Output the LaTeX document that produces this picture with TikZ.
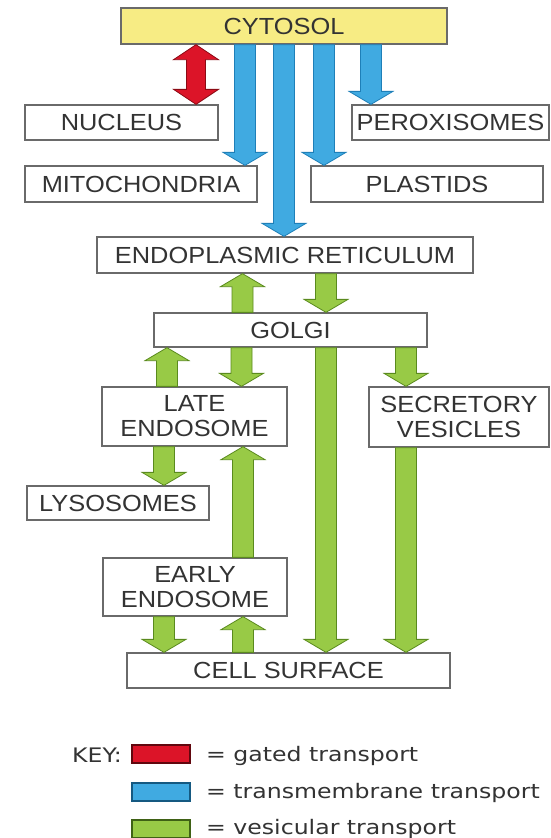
\documentclass[tikz,border=0pt]{standalone}
\usepackage{fontspec}
\newfontfamily\boxfont[FakeStretch=1.09]{Liberation Sans}
\newfontfamily\keyfont[FakeStretch=1.18]{DejaVu Sans}
\usetikzlibrary{calc}
\definecolor{cytyel}{HTML}{F7EC84}
\definecolor{boxgray}{HTML}{6A6A6A}
\definecolor{txtgray}{HTML}{333333}
\definecolor{tmblue}{HTML}{40AAE1}
\definecolor{tmblueD}{HTML}{1E7FB8}
\definecolor{vgreen}{HTML}{98CA46}
\definecolor{vgreenD}{HTML}{5A8A1E}
\definecolor{gred}{HTML}{DC1428}
\definecolor{gredD}{HTML}{8B0A14}
\def\blkSW{10.5pt}
\def\blkHW{22pt}
\def\blkHL{13pt}
\newcommand\blkdn[3]{%
  \path[#1] let \p1=#2, \p2=#3 in
   (\x1-\blkSW,\y1) -- (\x1-\blkSW,\y2+\blkHL) -- (\x1-\blkHW,\y2+\blkHL) -- (\x1,\y2)
   -- (\x1+\blkHW,\y2+\blkHL) -- (\x1+\blkSW,\y2+\blkHL) -- (\x1+\blkSW,\y1) -- cycle;}
\newcommand\blkup[3]{%
  \path[#1] let \p1=#2, \p2=#3 in
   (\x1-\blkSW,\y1) -- (\x1-\blkSW,\y2-\blkHL) -- (\x1-\blkHW,\y2-\blkHL) -- (\x1,\y2)
   -- (\x1+\blkHW,\y2-\blkHL) -- (\x1+\blkSW,\y2-\blkHL) -- (\x1+\blkSW,\y1) -- cycle;}
\newcommand\blkboth[3]{%
  \path[#1] let \p1=#2, \p2=#3 in
   (\x1,\y1) -- (\x1+22.5pt,\y1-15pt) -- (\x1+9.5pt,\y1-15pt) -- (\x1+9.5pt,\y2+15pt)
   -- (\x1+22.5pt,\y2+15pt) -- (\x1,\y2) -- (\x1-22.5pt,\y2+15pt) -- (\x1-9.5pt,\y2+15pt)
   -- (\x1-9.5pt,\y1-15pt) -- (\x1-22.5pt,\y1-15pt) -- cycle;}
\tikzset{
  box/.style={draw=boxgray, line width=1.3pt, fill=white, inner sep=0pt, text=txtgray,
    font=\boxfont\fontsize{23.3}{25}\selectfont, align=center},
  tmarrow/.style={fill=tmblue, draw=tmblueD, line width=0.8pt, line join=miter},
  vesarrow/.style={fill=vgreen, draw=vgreenD, line width=0.8pt, line join=miter},
  gatedarrow/.style={fill=gred, draw=gredD, line width=0.8pt, line join=miter},
  keyrect/.style={line width=1.2pt, inner sep=0pt, minimum width=58pt, minimum height=18pt},
  keytext/.style={anchor=west, inner sep=0pt, text=txtgray, font=\keyfont\fontsize{20}{22}\selectfont}
}
\begin{document}
\begin{tikzpicture}[x=1pt,y=-1pt]
\useasboundingbox[fill=white] (0,0) rectangle (551,838);
% boxes
\node[box, fill=cytyel, minimum width=326pt, minimum height=36pt] (cyt) at (284,26) {CYTOSOL};
\node[box, minimum width=193pt, minimum height=35pt] (nuc) at (121.5,122.5) {NUCLEUS};
\node[box, minimum width=197pt, minimum height=35pt] (perox) at (450.5,122.5) {PEROXISOMES};
\node[box, minimum width=232pt, minimum height=36pt] (mito) at (141,184) {MITOCHONDRIA};
\node[box, minimum width=232pt, minimum height=36pt] (plast) at (427,184) {PLASTIDS};
\node[box, minimum width=376pt, minimum height=36pt] (er) at (285,255) {ENDOPLASMIC RETICULUM};
\node[box, minimum width=273pt, minimum height=34pt] (golgi) at (290.5,330) {GOLGI};
\node[box, minimum width=185pt, minimum height=59pt] (late) at (194.5,416.5) {LATE\\ENDOSOME};
\node[box, minimum width=180pt, minimum height=60pt] (secr) at (459,417) {SECRETORY\\VESICLES};
\node[box, minimum width=182pt, minimum height=34pt] (lyso) at (118,503) {LYSOSOMES};
\node[box, minimum width=184pt, minimum height=58pt] (early) at (195,587) {EARLY\\ENDOSOME};
\node[box, minimum width=323pt, minimum height=35pt] (cell) at (288.5,670.5) {CELL SURFACE};
% gated transport
\blkboth{gatedarrow}{(cyt.south -| 196,0)}{(nuc.north -| 196,0)}
% transmembrane transport
\blkdn{tmarrow}{(cyt.south -| 245,0)}{(mito.north -| 245,0)}
\blkdn{tmarrow}{(cyt.south -| 284,0)}{(er.north -| 284,0)}
\blkdn{tmarrow}{(cyt.south -| 324,0)}{(plast.north -| 324,0)}
\blkdn{tmarrow}{(cyt.south -| 371,0)}{(perox.north -| 371,0)}
% vesicular transport
\blkup{vesarrow}{(golgi.north -| 242.5,0)}{(er.south -| 242.5,0)}
\blkdn{vesarrow}{(er.south -| 326,0)}{(golgi.north -| 326,0)}
\blkup{vesarrow}{(late.north -| 167,0)}{(golgi.south -| 167,0)}
\blkdn{vesarrow}{(golgi.south -| 241.5,0)}{(late.north -| 241.5,0)}
\blkdn{vesarrow}{(golgi.south -| 326,0)}{(cell.north -| 326,0)}
\blkdn{vesarrow}{(golgi.south -| 406,0)}{(secr.north -| 406,0)}
\blkdn{vesarrow}{(secr.south -| 406,0)}{(cell.north -| 406,0)}
\blkdn{vesarrow}{(late.south -| 164,0)}{(lyso.north -| 164,0)}
\blkup{vesarrow}{(early.north -| 243,0)}{(late.south -| 243,0)}
\blkdn{vesarrow}{(early.south -| 164,0)}{(cell.north -| 164,0)}
\blkup{vesarrow}{(cell.north -| 243,0)}{(early.south -| 243,0)}
% key
\node[keytext, anchor=east] (keylbl) at (122,755) {KEY:};
\node[keyrect, fill=gred, draw=gredD!70!black] (k1) at (161,754) {};
\node[keyrect, fill=tmblue, draw=tmblueD!70!black] (k2) at (161,792) {};
\node[keyrect, fill=vgreen, draw=vgreenD!70!black] (k3) at (161,829) {};
\node[keytext] (t1) at (206,756) {= gated transport};
\node[keytext] (t2) at (206,793) {= transmembrane transport};
\node[keytext] (t3) at (206,829) {= vesicular transport};
\end{tikzpicture}
\end{document}
